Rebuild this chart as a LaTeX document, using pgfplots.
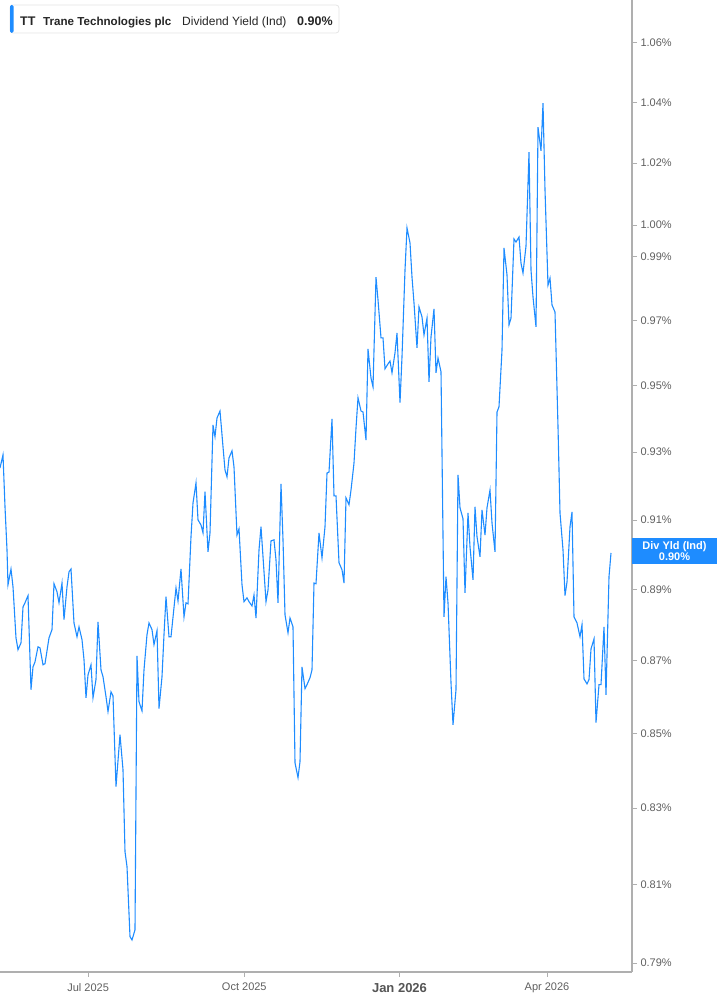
\documentclass[border=0pt]{standalone}
\usepackage{pgfplots}
\pgfplotsset{compat=1.18}
\usepackage{fontspec}
\setmainfont{Liberation Sans}
\definecolor{lineblue}{RGB}{30,140,255}
\definecolor{axgray}{RGB}{175,175,175}
\definecolor{lblgray}{RGB}{95,95,95}
\begin{document}
\begin{tikzpicture}
\begin{axis}[
  at={(0bp,33bp)}, anchor=south west,
  scale only axis, width=632bp, height=972bp,
  xmin=0, xmax=632,
  ymode=log, ymin=0.7877, ymax=1.0746,
  axis x line=bottom, axis y line=right,
  axis line style={draw=axgray, line width=1.8bp, -},
  tick align=outside, major tick length=5bp,
  tick style={draw=axgray, line width=1bp},
  xtick={88.1,244.3,399.5,547},
  xticklabels={Jul 2025, Oct 2025, {\fontsize{13bp}{15bp}\selectfont\bfseries\color{lblgray!90!black}Jan 2026}, Apr 2026},
  xticklabel style={font=\fontsize{11bp}{13bp}\selectfont, text=lblgray, yshift=-3bp},
  ytick={0.79,0.81,0.83,0.85,0.87,0.89,0.91,0.93,0.95,0.97,0.99,1.00,1.02,1.04,1.06},
  yticklabels={0.79\%,0.81\%,0.83\%,0.85\%,0.87\%,0.89\%,0.91\%,0.93\%,0.95\%,0.97\%,0.99\%,1.00\%,1.02\%,1.04\%,1.06\%},
  yticklabel style={font=\fontsize{11bp}{13bp}\selectfont, text=lblgray, anchor=west},
  minor tick num=0,
]
\addplot[lineblue, line width=1.1bp, no markers] coordinates {
(0,0.9253) (3,0.9292) (5,0.9139) (7,0.9014) (8,0.8914) (11,0.8959) (13,0.8908) (16,0.8764)
(18,0.8731) (21,0.8750) (23,0.8851) (25,0.8863) (28,0.8883) (31,0.8620) (33,0.8683) (35,0.8697)
(38,0.8739) (40,0.8736) (43,0.8689) (45,0.8692) (49,0.8764) (52,0.8787) (54,0.8917) (57,0.8894)
(59,0.8863) (62,0.8919) (64,0.8815) (67,0.8908) (69,0.8951) (71,0.8959) (74,0.8806) (77,0.8767)
(79,0.8795) (82,0.8759) (84,0.8703) (86,0.8598) (88,0.8661) (91,0.8689) (93,0.8598) (96,0.8648)
(98,0.8809) (101,0.8675) (103,0.8656) (106,0.8601) (108,0.8560) (111,0.8614) (113,0.8603) (116,0.8357)
(120,0.8497) (123,0.8402) (125,0.8185) (127,0.8146) (130,0.7966) (132,0.7958) (135,0.7984) (137,0.8714)
(139,0.8587) (142,0.8562) (144,0.8675) (147,0.8773) (149,0.8806) (152,0.8787) (154,0.8745) (157,0.8784)
(159,0.8568) (162,0.8656) (164,0.8773) (166,0.8880) (169,0.8767) (171,0.8767) (176,0.8905) (178,0.8868)
(181,0.8959) (184,0.8823) (186,0.8863) (188,0.8860) (191,0.9052) (193,0.9150) (196,0.9209) (198,0.9101)
(201,0.9086) (203,0.9063) (205,0.9183) (208,0.9008) (210,0.9063) (213,0.9381) (215,0.9346) (217,0.9402)
(220,0.9423) (223,0.9316) (225,0.9247) (227,0.9227) (229,0.9283) (232,0.9304) (234,0.9256) (237,0.9057)
(239,0.9075) (242,0.8914) (244,0.8866) (247,0.8877) (249,0.8866) (252,0.8854) (254,0.8885) (256,0.8820)
(259,0.9014) (261,0.9081) (266,0.8866) (268,0.8899) (271,0.9040) (274,0.9043) (276,0.8985) (278,0.8863)
(281,0.9206) (283,0.9043) (285,0.8829) (288,0.8778) (290,0.8820) (293,0.8795) (295,0.8421) (298,0.8381)
(300,0.8424) (302,0.8683) (305,0.8623) (307,0.8634) (310,0.8653) (312,0.8675) (314,0.8919) (316,0.8917)
(319,0.9063) (322,0.8991) (325,0.9081) (327,0.9238) (329,0.9241) (332,0.9399) (334,0.9171) (336,0.9171)
(339,0.8977) (342,0.8957) (344,0.8919) (346,0.9165) (349,0.9145) (351,0.9188) (354,0.9268) (356,0.9372)
(358,0.9463) (361,0.9423) (363,0.9420) (366,0.9336) (368,0.9612) (371,0.9523) (373,0.9496) (376,0.9835)
(378,0.9764) (381,0.9646) (383,0.9646) (385,0.9551) (388,0.9566) (390,0.9575) (392,0.9539) (395,0.9600)
(397,0.9661) (400,0.9448) (402,0.9588) (405,0.9857) (407,0.9991) (410,0.9943) (412,0.9835) (414,0.9754)
(417,0.9615) (419,0.9742) (422,0.9711) (424,0.9655) (427,0.9707) (429,0.9511) (431,0.9649) (434,0.9736)
(436,0.9539) (438,0.9584) (441,0.9542) (444,0.8823) (446,0.8937) (448,0.8863) (451,0.8639) (453,0.8524)
(456,0.8620) (458,0.9233) (460,0.9136) (463,0.9104) (465,0.8891) (468,0.9121) (470,0.9023) (473,0.8928)
(475,0.9139) (477,0.9052) (480,0.8994) (482,0.9130) (485,0.9057) (487,0.9136) (490,0.9188) (492,0.9092)
(495,0.9008) (497,0.9420) (499,0.9436) (502,0.9609) (504,0.9927) (507,0.9842) (509,0.9686) (511,0.9707)
(514,0.9956) (516,0.9946) (519,0.9962) (521,0.9879) (523,0.9848) (526,0.9933) (529,1.0236) (531,0.9857)
(533,0.9773) (536,0.9680) (538,1.0318) (541,1.0240) (543,1.0398) (545,1.0113) (548,0.9810) (550,0.9832)
(552,0.9748) (555,0.9726) (558,0.9375) (560,0.9121) (563,0.9014) (565,0.8883) (567,0.8922) (570,0.9081)
(572,0.9124) (574,0.8823) (577,0.8806) (580,0.8767) (582,0.8801) (584,0.8650) (587,0.8636) (589,0.8648)
(591,0.8733) (594,0.8761) (596,0.8530) (599,0.8634) (601,0.8634) (604,0.8795) (606,0.8606) (609,0.8937)
(611,0.9005)
};
\end{axis}
\begin{scope}[x=1bp,y=1bp]
% legend box
\draw[draw=gray!20, fill=white, rounded corners=3bp, line width=0.8bp] (10,972) rectangle (339,1000);
\fill[lineblue, rounded corners=1.5bp] (10,972) rectangle (13.5,1000);
\begin{scope}[every node/.style={anchor=base west, inner sep=0pt, text=black!85}]
\node[font=\fontsize{12.5bp}{14bp}\selectfont\bfseries] at (20,979) {TT};
\node[font=\fontsize{11.6bp}{14bp}\selectfont\bfseries] at (43,979) {Trane Technologies plc};
\node[font=\fontsize{12bp}{14bp}\selectfont] at (182,979) {Dividend Yield (Ind)};
\node[font=\fontsize{12.5bp}{14bp}\selectfont\bfseries] at (297,979) {0.90\%};
\end{scope}
% last value tag
\fill[lineblue] (632,441) rectangle (717,467);
\node[text=white, font=\fontsize{11bp}{11.5bp}\selectfont\bfseries, align=center, inner sep=0pt] at (674.5,454) {Div Yld (Ind)\\0.90\%};
\end{scope}
\pgfresetboundingbox
\path[use as bounding box] (0,0) rectangle (717bp,1005bp);
\end{tikzpicture}
\end{document}
